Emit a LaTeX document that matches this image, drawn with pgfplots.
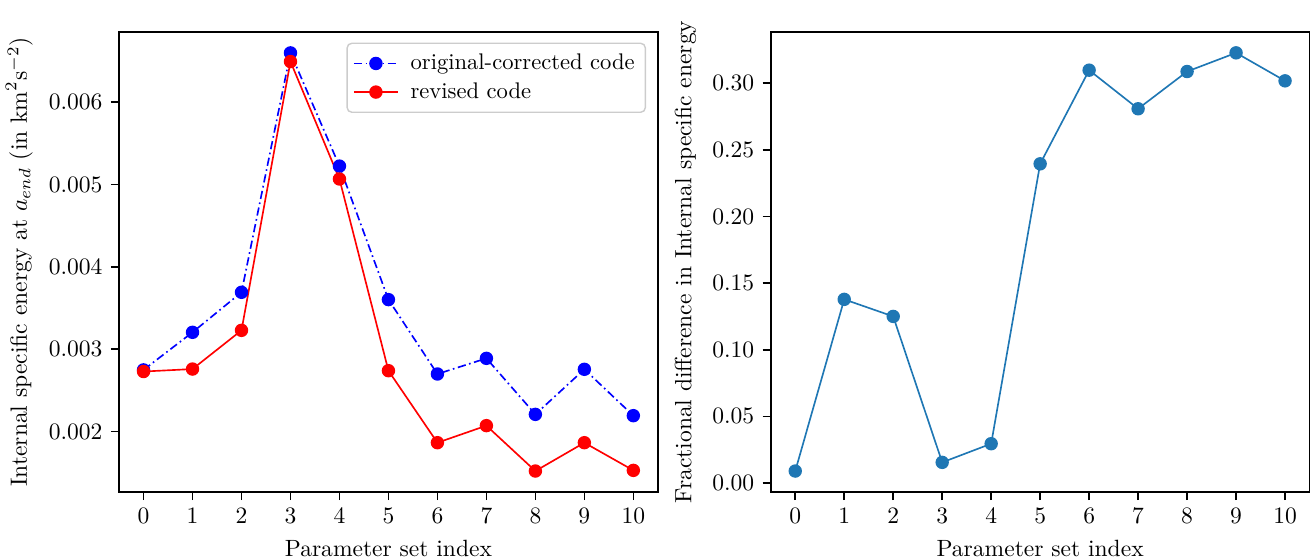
\documentclass[border=0pt]{standalone}
\usepackage{pgfplots}
\pgfplotsset{compat=1.18}
\definecolor{tabblue}{HTML}{1F77B4}
\definecolor{legedge}{RGB}{204,204,204}
\begin{document}
\begin{tikzpicture}
\useasboundingbox (-50.6pt,-28.9pt) rectangle (507.9pt,209.1pt);
\pgfplotsset{
  common/.style={
    scale only axis, width=229pt, height=195.5pt,
    xmin=-0.5, xmax=10.5, xtick={0,1,2,3,4,5,6,7,8,9,10},
    tick align=outside, tick pos=left,
    major tick length=3.5pt,
    every tick/.style={black, line width=0.7pt},
    axis line style={line width=0.8pt},
    scaled y ticks=false,
    xlabel={Parameter set index},
  }
}
\begin{axis}[common, at={(0,0)}, anchor=south west,
  ymin=0.001268, ymax=0.006852,
  ytick={0.002,0.003,0.004,0.005,0.006},
  yticklabel style={/pgf/number format/fixed, /pgf/number format/precision=3, /pgf/number format/fixed zerofill},
  ylabel={Internal specific energy at $a_{end}$ (in $\mathrm{km}^2\mathrm{s}^{-2}$)},
  legend cell align=left,
  legend style={at={(1,1)}, xshift=-5pt, yshift=-4.5pt, anchor=north east,
    draw=legedge, rounded corners=2pt, line width=0.6pt, inner sep=2.5pt,
    row sep=0pt, column sep=3pt, font=\fontsize{9.6pt}{11.5pt}\selectfont},
  legend image code/.code={\draw[mark repeat=2, mark phase=2] plot coordinates {(0cm,0cm) (0.33cm,0cm) (0.66cm,0cm)};},
]
\addplot[blue, line width=0.7pt, dash pattern=on 3.5pt off 1.5pt on 0.7pt off 1.5pt, mark=*, mark size=2.5pt, mark options={solid, fill=blue, draw=blue}]
coordinates {(0,0.00275) (1,0.003206) (2,0.003692) (3,0.006598) (4,0.005224) (5,0.003603) (6,0.00270) (7,0.00289) (8,0.00221) (9,0.002757) (10,0.002194)};
\addlegendentry{original-corrected code}
\addplot[red, line width=0.7pt, mark=*, mark size=2.5pt, mark options={solid, fill=red, draw=red}]
coordinates {(0,0.00273) (1,0.00276) (2,0.00323) (3,0.006493) (4,0.005067) (5,0.00274) (6,0.001866) (7,0.002073) (8,0.001522) (9,0.001866) (10,0.00153)};
\addlegendentry{revised code}
\end{axis}
\begin{axis}[common, at={(277pt,0)}, anchor=south west,
  ymin=-0.0067, ymax=0.3384,
  ytick={0,0.05,0.10,0.15,0.20,0.25,0.30},
  yticklabel style={/pgf/number format/fixed, /pgf/number format/precision=2, /pgf/number format/fixed zerofill},
  ylabel={Fractional difference in Internal specific energy},
]
\addplot[tabblue, line width=0.7pt, mark=*, mark size=2.5pt, mark options={solid, fill=tabblue, draw=tabblue}]
coordinates {(0,0.009) (1,0.1378) (2,0.125) (3,0.0155) (4,0.0295) (5,0.2395) (6,0.30975) (7,0.2808) (8,0.30875) (9,0.32275) (10,0.30175)};
\end{axis}
\end{tikzpicture}
\end{document}
